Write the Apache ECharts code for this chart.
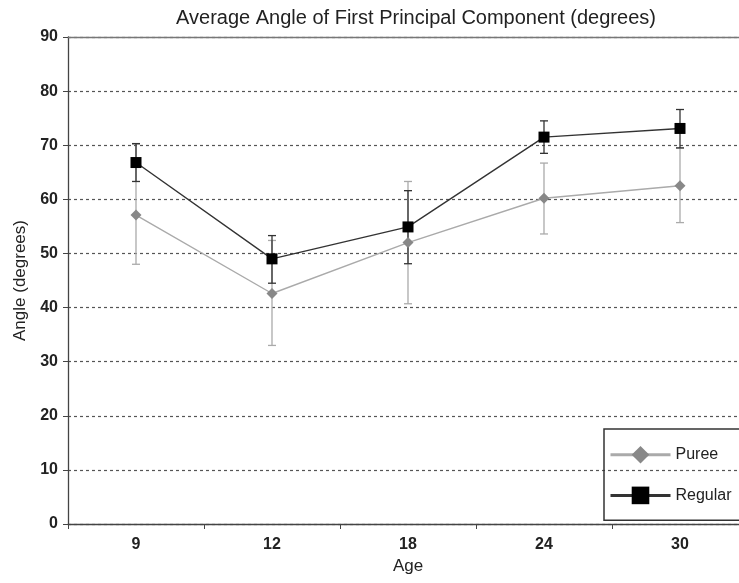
<!DOCTYPE html>
<html>
<head>
<meta charset="utf-8">
<script src="https://cdn.jsdelivr.net/npm/echarts@6/dist/echarts.min.js"></script>
<style>
  html, body { margin: 0; padding: 0; background: #fff; }
  #chart { width: 739px; height: 583px; }
</style>
</head>
<body>
<div id="chart"></div>
<script>
var ages = ['9', '12', '18', '24', '30'];

var regular = [66.8, 49.0, 54.9, 71.5, 73.1];
var regularHi = [70.3, 53.3, 61.6, 74.5, 76.6];
var regularLo = [63.3, 44.5, 48.1, 68.5, 69.5];

var puree = [57.1, 42.6, 52.0, 60.2, 62.5];
var pureeHi = [70.2, 52.4, 63.3, 66.7, 69.5];
var pureeLo = [48.0, 33.0, 40.7, 53.6, 55.7];

var font = '"Liberation Sans", Arial, sans-serif';

function errData(hi, lo) {
    return hi.map(function (h, i) { return [i, h, lo[i]]; });
}

function errorBars(color) {
    return function (params, api) {
        var x = api.value(0);
        var top = api.coord([x, api.value(1)]);
        var bot = api.coord([x, api.value(2)]);
        var w = 4;
        var st = { stroke: color, lineWidth: 1.3 };
        return {
            type: 'group',
            children: [
                { type: 'line', shape: { x1: top[0], y1: top[1], x2: bot[0], y2: bot[1] }, style: st },
                { type: 'line', shape: { x1: top[0] - w, y1: top[1], x2: top[0] + w, y2: top[1] }, style: st },
                { type: 'line', shape: { x1: bot[0] - w, y1: bot[1], x2: bot[0] + w, y2: bot[1] }, style: st }
            ]
        };
    };
}

var chart = echarts.init(document.getElementById('chart'));
var option = {
    animation: false,
    backgroundColor: '#fff',
    title: {
        text: 'Average Angle of First Principal Component (degrees)',
        left: 411,
        textAlign: 'center',
        top: 3,
        textStyle: { fontFamily: font, fontSize: 20, fontWeight: 'normal', color: '#222' }
    },
    grid: { left: 68, top: 37, bottom: 59, width: 680, outerBoundsMode: 'none', containLabel: false },
    legend: {
        orient: 'vertical',
        left: 604,
        top: 429,
        padding: [17, 60, 16, 5],
        itemWidth: 60,
        itemHeight: 22,
        itemGap: 23,
        borderColor: '#333',
        borderWidth: 1.5,
        selectedMode: false,
        lineStyle: { width: 3 },
        textStyle: { fontFamily: font, fontSize: 16, color: '#222' },
        data: ['Puree', 'Regular']
    },
    xAxis: [{
        type: 'category',
        data: ages,
        name: 'Age',
        nameLocation: 'middle',
        nameGap: 34,
        nameTextStyle: { fontFamily: font, fontSize: 17, color: '#222' },
        axisLine: { lineStyle: { color: '#444', width: 1.3 } },
        axisTick: { show: true, length: 5, lineStyle: { color: '#444' } },
        axisLabel: { fontFamily: font, fontSize: 16, fontWeight: 'bold', color: '#222', margin: 13 }
    }, {
        type: 'category',
        data: ages,
        position: 'top',
        axisLine: { lineStyle: { color: '#777', width: 1.3 } },
        axisTick: { show: false },
        axisLabel: { show: false }
    }],
    yAxis: {
        type: 'value',
        min: 0,
        max: 90,
        interval: 10,
        name: 'Angle (degrees)',
        nameLocation: 'middle',
        nameGap: 39,
        nameTextStyle: { fontFamily: font, fontSize: 17, color: '#222' },
        axisLine: { show: true, lineStyle: { color: '#444', width: 1.3 } },
        axisTick: { show: true, length: 5, lineStyle: { color: '#444' } },
        axisLabel: { fontFamily: font, fontSize: 16, fontWeight: 'bold', color: '#222', margin: 10 },
        splitLine: { lineStyle: { color: '#555', type: [3, 3], width: 1.2 } }
    },
    series: [
        {
            name: 'pureeErr',
            type: 'custom',
            renderItem: errorBars('#aaa'),
            data: errData(pureeHi, pureeLo),
            encode: { x: 0, y: [1, 2] },
            z: 2
        },
        {
            name: 'regularErr',
            type: 'custom',
            renderItem: errorBars('#333'),
            data: errData(regularHi, regularLo),
            encode: { x: 0, y: [1, 2] },
            z: 3
        },
        {
            name: 'Puree',
            type: 'line',
            data: puree,
            symbol: 'diamond',
            symbolSize: 11,
            itemStyle: { color: '#888' },
            lineStyle: { color: '#aaa', width: 1.4 },
            z: 4
        },
        {
            name: 'Regular',
            type: 'line',
            data: regular,
            symbol: 'rect',
            symbolSize: 11,
            itemStyle: { color: '#000' },
            lineStyle: { color: '#333', width: 1.4 },
            z: 5
        }
    ]
};
chart.setOption(option);
</script>
</body>
</html>
